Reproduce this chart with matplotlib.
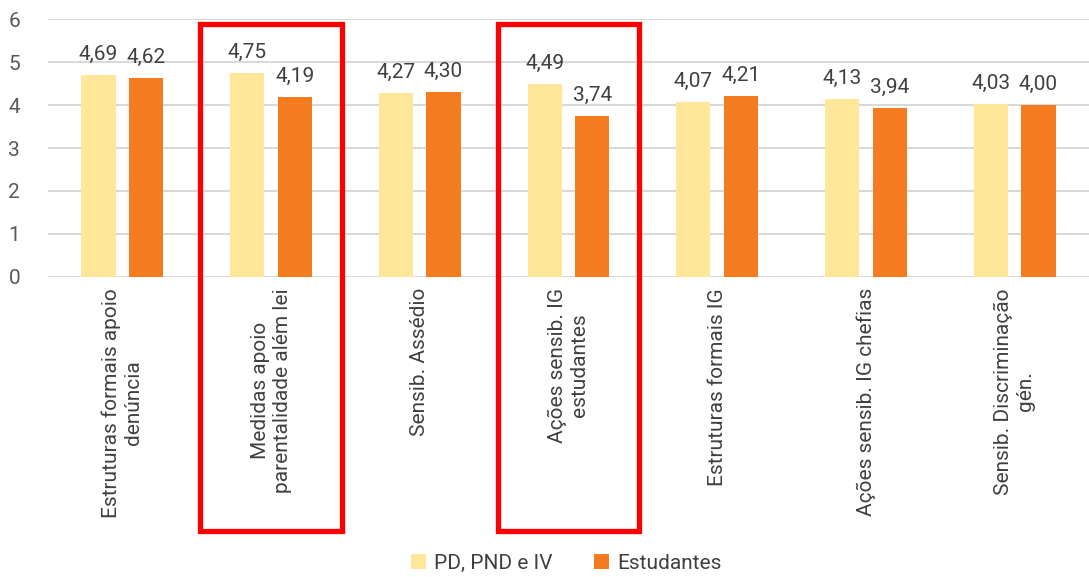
import matplotlib
matplotlib.use("Agg")
import matplotlib.pyplot as plt
import matplotlib.transforms as mtransforms
from matplotlib.patches import Rectangle
import numpy as np

categories = [
    "Estruturas formais apoio\ndenúncia",
    "Medidas apoio\nparentalidade além lei",
    "Sensib. Assédio",
    "Ações sensib. IG\nestudantes",
    "Estruturas formais IG",
    "Ações sensib. IG chefias",
    "Sensib. Discriminação\ngén.",
]
pd_pnd_iv = [4.69, 4.75, 4.27, 4.49, 4.07, 4.13, 4.03]
estudantes = [4.62, 4.19, 4.30, 3.74, 4.21, 3.94, 4.00]
highlighted = [1, 3]

LIGHT = "#FFE699"
ORANGE = "#F47B20"
TEXT = "#404040"

plt.rcParams["font.family"] = ["Roboto", "DejaVu Sans"]

fig = plt.figure(figsize=(10.89, 5.77), dpi=100)
ax = fig.add_axes([0.044, 0.52, 0.956, 0.447])

x = np.arange(len(categories))
width = 0.23
offset = 0.16
b1 = ax.bar(x - offset, pd_pnd_iv, width, color=LIGHT, label="PD, PND e IV", zorder=3)
b2 = ax.bar(x + offset, estudantes, width, color=ORANGE, label="Estudantes", zorder=3)

for bars, vals in ((b1, pd_pnd_iv), (b2, estudantes)):
    for bar, v in zip(bars, vals):
        ax.annotate(f"{v:.2f}".replace(".", ","),
                    (bar.get_x() + bar.get_width() / 2, v),
                    xytext=(0, 8), textcoords="offset points",
                    ha="center", va="bottom", fontsize=15, color=TEXT)

ax.set_xlim(-0.5, len(categories) - 0.5)
ax.set_ylim(0, 6)
ax.set_yticks(range(0, 7))
ax.yaxis.grid(True, color="#d9d9d9", linewidth=1.5, zorder=0)
ax.set_axisbelow(True)
for s in ax.spines.values():
    s.set_visible(False)
ax.tick_params(axis="both", length=0, labelsize=15, labelcolor="#595959")
ax.tick_params(axis="y", pad=20)
ax.set_xticks(x)
ax.set_xticklabels(categories, rotation=90, multialignment="center", fontsize=15, color=TEXT)
ax.tick_params(axis="x", pad=8)

# red frames around the highlighted categories
trans = mtransforms.blended_transform_factory(ax.transData, fig.transFigure)
for i in highlighted:
    rect = Rectangle((i - 0.475, 0.080), 0.95, 0.878, transform=trans,
                     fill=False, edgecolor="#FF0000", linewidth=3.8,
                     clip_on=False, zorder=5)
    fig.add_artist(rect)

fig.legend(handles=[b1, b2], loc="lower center", bbox_to_anchor=(0.52, -0.025),
           ncol=2, frameon=False, fontsize=15, handlelength=0.7, handleheight=0.7,
           columnspacing=2.0, handletextpad=0.4, labelcolor=TEXT)

fig.savefig("out.png", dpi=100)
